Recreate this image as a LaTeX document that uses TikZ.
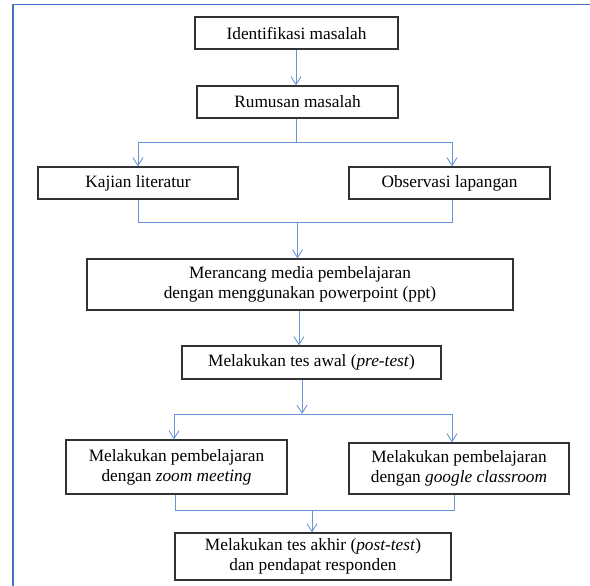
\documentclass[tikz,border=0pt]{standalone}
\usepackage{fontspec}
\setmainfont{Liberation Serif}
\usetikzlibrary{arrows.meta}
\definecolor{framecol}{RGB}{68,114,196}
\definecolor{linkcol}{RGB}{106,148,212}
\definecolor{boxcol}{RGB}{50,50,50}
\begin{document}
\begin{tikzpicture}[x=1pt,y=-1pt,
  stepbox/.style={draw=boxcol,line width=1.1pt,rectangle,align=center,inner sep=0pt,
    font=\fontsize{17.3pt}{20pt}\selectfont},
  link/.style={draw=linkcol,line width=1pt},
  arr/.style={link,-{Straight Barb[length=8pt,width=10pt,line width=0.9pt]}}]
\useasboundingbox (0,0) rectangle (590,586);
% frame
\coordinate (fb) at (13,586);
\coordinate (fc) at (13,4.5);
\coordinate (fr) at (590,4.5);
\draw[framecol,line width=1.5pt] (fb) -- (fc) -- (fr);

\node[stepbox,minimum width=203pt,minimum height=32pt] (b1) at (296.5,33) {Identifikasi masalah};
\node[stepbox,minimum width=201pt,minimum height=32pt] (b2) at (297.5,102) {Rumusan masalah};
\node[stepbox,minimum width=200pt,minimum height=32pt] (kaj) at (138,183) {Kajian literatur};
\node[stepbox,minimum width=201pt,minimum height=32pt] (obs) at (449.5,183) {Observasi lapangan};
\node[stepbox,minimum width=426pt,minimum height=51pt] (mer) at (300,284.5) {Merancang media pembelajaran\\dengan menggunakan powerpoint (ppt)};
\node[stepbox,minimum width=259pt,minimum height=33pt] (tes) at (311.5,362.5) {Melakukan tes awal (\textit{pre-test})};
\node[stepbox,minimum width=221pt,minimum height=54pt] (zm) at (176.5,467) {Melakukan pembelajaran\\dengan \textit{zoom meeting}};
\node[stepbox,minimum width=220pt,minimum height=51pt] (gc) at (459,468.5) {Melakukan pembelajaran\\dengan \textit{google classroom}};
\node[stepbox,minimum width=276pt,minimum height=47pt] (fin) at (313,556.5) {Melakukan tes akhir (\textit{post-test})\\dan pendapat responden};

% connectors
\draw[arr] ([xshift=-0.5pt]b1.south) -- ([xshift=-0.5pt]b1.south |- b2.north);

\coordinate (s1) at (296.5,143);
\draw[link] ([xshift=-1pt]b2.south) -- (s1);
\draw[arr] (s1) -| (kaj.north);
\draw[arr] (s1) -| ([xshift=2.5pt]obs.north);

\coordinate (m1) at (297.5,222);
\draw[link] (kaj.south) |- (m1);
\draw[link] ([xshift=2.5pt]obs.south) |- (m1);
\draw[arr] (m1) -- (m1 |- mer.north);

\draw[arr] ([xshift=-1pt]mer.south) -- ([xshift=-1pt]mer.south |- tes.north);

\coordinate (s2) at (302,414);
\draw[arr] (s2 |- tes.south) -- (s2);
\draw[arr] (s2) -| ([xshift=-2.5pt]zm.north);
\draw[arr] (s2) -| ([xshift=-7pt]gc.north);

\coordinate (m2) at (312,510);
\draw[link] ([xshift=-1.5pt]zm.south) |- (m2);
\draw[link] ([xshift=-5pt]gc.south) |- (m2);
\draw[arr] (m2) -- (m2 |- fin.north);
\end{tikzpicture}
\end{document}
